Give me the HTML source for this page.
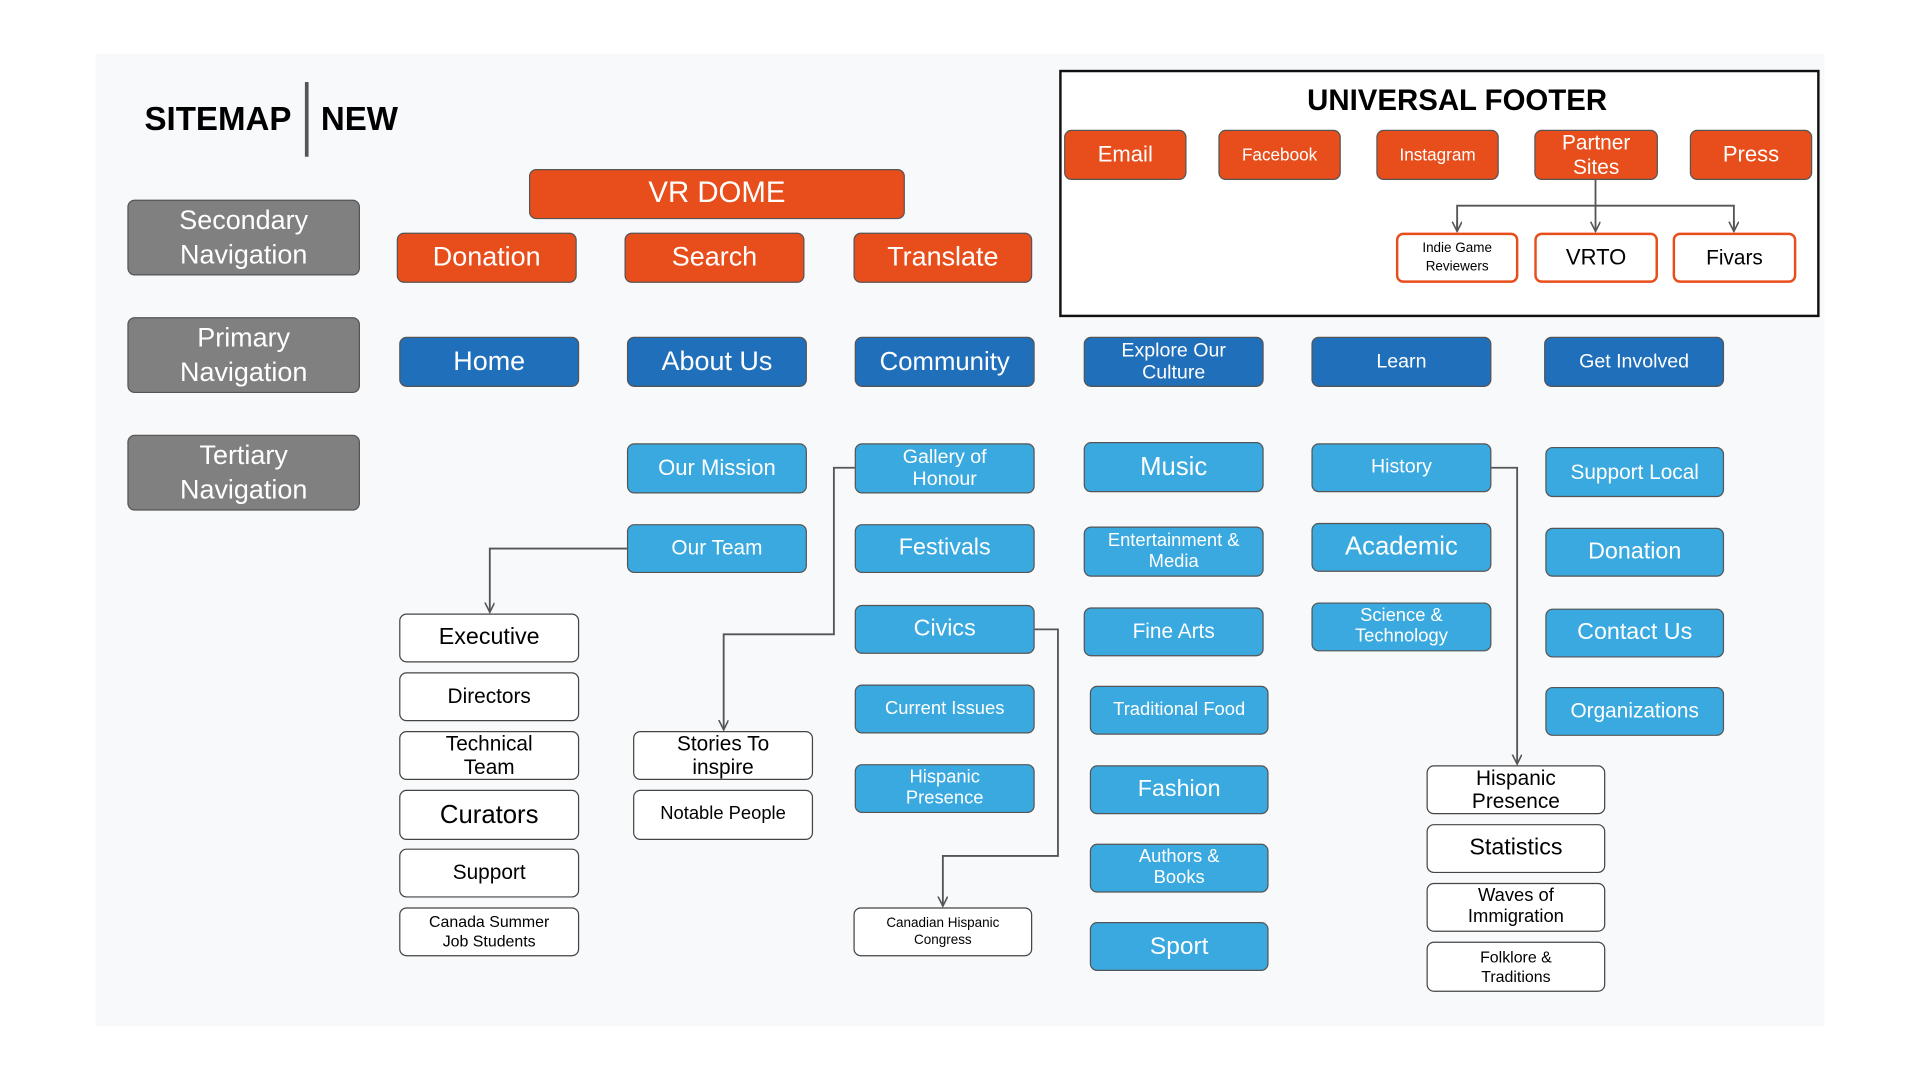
<!DOCTYPE html>
<html><head><meta charset="utf-8"><style>
html,body{margin:0;padding:0;background:#fff;width:1920px;height:1080px;overflow:hidden}
#c{position:absolute;left:0;top:0;width:1568px;height:882px;transform:scale(1.22449);transform-origin:0 0;font-family:"Liberation Sans",sans-serif}
.bg{position:absolute;left:78px;top:44px;width:1412px;height:794px;background:#f8f9fb}
.b{position:absolute;box-sizing:border-box;border-radius:6px;display:flex;align-items:center;justify-content:center;text-align:center;line-height:1.12}
.o{background:#e84e1b;border:1.5px solid #555;color:#fff}
.d{background:#1f6fba;border:1.5px solid #555;color:#fff}
.l{background:#39a9e0;border:1.5px solid #555;color:#fff}
.g{background:#808080;border:1.5px solid #555;color:#fff;font-size:22px}
.w{background:#fff;border:1.5px solid #444;color:#000}
.ow{background:#fff;border:2px solid #e84e1b;color:#000}
.t{position:absolute;font-weight:bold;color:#000}
svg{position:absolute;left:0;top:0}
</style></head><body><div id="c">
<div class="bg"></div>
<div class="t" style="left:118px;top:82px;font-size:27px">SITEMAP</div>
<div style="position:absolute;left:249px;top:67px;width:3px;height:61px;background:#555"></div>
<div class="t" style="left:262px;top:82px;font-size:27px">NEW</div>

<div style="position:absolute;left:865px;top:57px;width:621px;height:202px;box-sizing:border-box;border:2px solid #111;background:#fff"></div>
<div class="t" style="left:865px;width:650px;text-align:center;top:69px;font-size:24px">UNIVERSAL FOOTER</div>

<svg width="1568" height="882" viewBox="0 0 1568 882">
<defs><marker id="a" markerWidth="9" markerHeight="9" refX="8" refY="4" orient="auto" markerUnits="userSpaceOnUse"><path d="M0,0 L8,4 L0,8" fill="none" stroke="#555" stroke-width="1.3"/></marker></defs>
<g fill="none" stroke="#555" stroke-width="1.5">
<path d="M1303,147 V189" marker-end="url(#a)"/>
<path d="M1190,189 V168 H1416 V189" />
<path d="M1190,180 V189" marker-end="url(#a)"/>
<path d="M1416,180 V189" marker-end="url(#a)"/>
<path d="M512,448 H400 V500" marker-end="url(#a)"/>
<path d="M698,382 H681 V518 H591 V596" marker-end="url(#a)"/>
<path d="M845,514 H864 V699 H770 V740" marker-end="url(#a)"/>
<path d="M1218,382 H1239 V624" marker-end="url(#a)"/>
</g></svg>

<div class="b o" style="left:869px;top:106px;width:100px;height:41px;font-size:18px">Email</div>
<div class="b o" style="left:995px;top:106px;width:100px;height:41px;font-size:14px">Facebook</div>
<div class="b o" style="left:1124px;top:106px;width:100px;height:41px;font-size:14px">Instagram</div>
<div class="b o" style="left:1253px;top:106px;width:101px;height:41px;font-size:17px">Partner<br>Sites</div>
<div class="b o" style="left:1380px;top:106px;width:100px;height:41px;font-size:18px">Press</div>
<div class="b ow" style="left:1140px;top:190px;width:100px;height:41px;font-size:11px;line-height:1.3">Indie Game<br>Reviewers</div>
<div class="b ow" style="left:1253px;top:190px;width:101px;height:41px;font-size:18px">VRTO</div>
<div class="b ow" style="left:1366px;top:190px;width:101px;height:41px;font-size:17px">Fivars</div>

<div class="b g" style="left:104px;top:163px;width:190px;height:62px;line-height:1.28">Secondary<br>Navigation</div>
<div class="b g" style="left:104px;top:259px;width:190px;height:62px;line-height:1.28">Primary<br>Navigation</div>
<div class="b g" style="left:104px;top:355px;width:190px;height:62px;line-height:1.28">Tertiary<br>Navigation</div>

<div class="b o" style="left:432px;top:138px;width:307px;height:41px;font-size:24px">VR DOME</div>
<div class="b o" style="left:324px;top:190px;width:147px;height:41px;font-size:22px">Donation</div>
<div class="b o" style="left:510px;top:190px;width:147px;height:41px;font-size:22px">Search</div>
<div class="b o" style="left:697px;top:190px;width:146px;height:41px;font-size:22px">Translate</div>

<div class="b d" style="left:326px;top:275px;width:147px;height:41px;font-size:22px">Home</div>
<div class="b d" style="left:512px;top:275px;width:147px;height:41px;font-size:22px">About Us</div>
<div class="b d" style="left:698px;top:275px;width:147px;height:41px;font-size:21px">Community</div>
<div class="b d" style="left:885px;top:275px;width:147px;height:41px;font-size:16px">Explore Our<br>Culture</div>
<div class="b d" style="left:1071px;top:275px;width:147px;height:41px;font-size:16px">Learn</div>
<div class="b d" style="left:1261px;top:275px;width:147px;height:41px;font-size:16px">Get Involved</div>

<div class="b l" style="left:512px;top:362px;width:147px;height:41px;font-size:18px">Our Mission</div>
<div class="b l" style="left:512px;top:428px;width:147px;height:40px;font-size:17px">Our Team</div>
<div class="b l" style="left:698px;top:362px;width:147px;height:41px;font-size:16px">Gallery of<br>Honour</div>
<div class="b l" style="left:698px;top:428px;width:147px;height:40px;font-size:19px">Festivals</div>
<div class="b l" style="left:698px;top:494px;width:147px;height:40px;font-size:19px">Civics</div>
<div class="b l" style="left:698px;top:559px;width:147px;height:40px;font-size:15px">Current Issues</div>
<div class="b l" style="left:698px;top:624px;width:147px;height:40px;font-size:15px">Hispanic<br>Presence</div>
<div class="b l" style="left:885px;top:361px;width:147px;height:41px;font-size:21px">Music</div>
<div class="b l" style="left:885px;top:430px;width:147px;height:41px;font-size:15px">Entertainment &amp;<br>Media</div>
<div class="b l" style="left:885px;top:496px;width:147px;height:40px;font-size:17px">Fine Arts</div>
<div class="b l" style="left:890px;top:560px;width:146px;height:40px;font-size:15px">Traditional Food</div>
<div class="b l" style="left:890px;top:625px;width:146px;height:40px;font-size:19px">Fashion</div>
<div class="b l" style="left:890px;top:689px;width:146px;height:40px;font-size:15px">Authors &amp;<br>Books</div>
<div class="b l" style="left:890px;top:753px;width:146px;height:40px;font-size:20px">Sport</div>
<div class="b l" style="left:1071px;top:362px;width:147px;height:40px;font-size:16px">History</div>
<div class="b l" style="left:1071px;top:427px;width:147px;height:40px;font-size:21px">Academic</div>
<div class="b l" style="left:1071px;top:492px;width:147px;height:40px;font-size:15px">Science &amp;<br>Technology</div>
<div class="b l" style="left:1262px;top:365px;width:146px;height:41px;font-size:17px">Support Local</div>
<div class="b l" style="left:1262px;top:431px;width:146px;height:40px;font-size:19px">Donation</div>
<div class="b l" style="left:1262px;top:497px;width:146px;height:40px;font-size:19px">Contact Us</div>
<div class="b l" style="left:1262px;top:561px;width:146px;height:40px;font-size:17px">Organizations</div>

<div class="b w" style="left:326px;top:501px;width:147px;height:40px;font-size:19px">Executive</div>
<div class="b w" style="left:326px;top:549px;width:147px;height:40px;font-size:17px">Directors</div>
<div class="b w" style="left:326px;top:597px;width:147px;height:40px;font-size:17px">Technical<br>Team</div>
<div class="b w" style="left:326px;top:645px;width:147px;height:41px;font-size:21px">Curators</div>
<div class="b w" style="left:326px;top:693px;width:147px;height:40px;font-size:17px">Support</div>
<div class="b w" style="left:326px;top:741px;width:147px;height:40px;font-size:13px;line-height:1.2">Canada Summer<br>Job Students</div>
<div class="b w" style="left:517px;top:597px;width:147px;height:40px;font-size:17px">Stories To<br>inspire</div>
<div class="b w" style="left:517px;top:645px;width:147px;height:41px;font-size:15px">Notable People</div>
<div class="b w" style="left:697px;top:741px;width:146px;height:40px;font-size:11px;line-height:1.3">Canadian Hispanic<br>Congress</div>
<div class="b w" style="left:1165px;top:625px;width:146px;height:40px;font-size:17px">Hispanic<br>Presence</div>
<div class="b w" style="left:1165px;top:673px;width:146px;height:40px;font-size:19px">Statistics</div>
<div class="b w" style="left:1165px;top:721px;width:146px;height:40px;font-size:15px">Waves of<br>Immigration</div>
<div class="b w" style="left:1165px;top:769px;width:146px;height:41px;font-size:13px;line-height:1.2">Folklore &amp;<br>Traditions</div>
</div></body></html>
